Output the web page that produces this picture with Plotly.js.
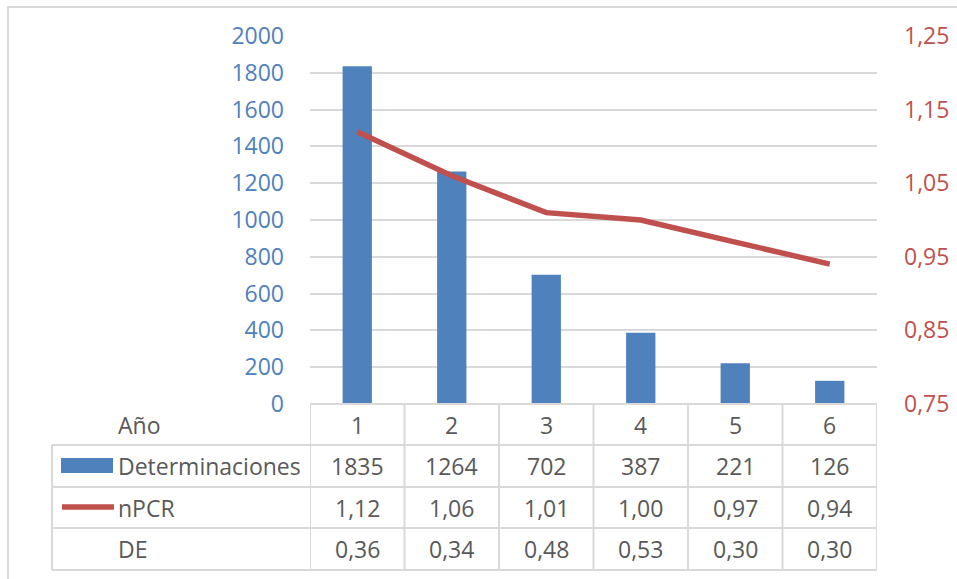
<!DOCTYPE html>
<html>
<head>
<meta charset="utf-8">
<script src="https://cdn.plot.ly/plotly-3.0.1.min.js"></script>
<style>html,body{margin:0;padding:0;background:#fff;}#chart{width:957px;height:579px;}</style>
</head>
<body>
<div id="chart"></div>
<script>
// ---- data ----
const years = [1, 2, 3, 4, 5, 6];
const determinaciones = [1835, 1264, 702, 387, 221, 126];
const npcr = [1.12, 1.06, 1.01, 1.00, 0.97, 0.94];
const de = [0.36, 0.34, 0.48, 0.53, 0.30, 0.30];
const rowLabels = ['Año', 'Determinaciones', 'nPCR', 'DE'];
const leftTicks = [0, 200, 400, 600, 800, 1000, 1200, 1400, 1600, 1800, 2000];
const rightTicks = [0.75, 0.85, 0.95, 1.05, 1.15, 1.25];

// ---- styling / geometry ----
const W = 957, H = 579;
const L = 310, R = 877, T = 36, B = 404;
const blue = '#4F81BD', red = '#C0504D', grey = '#595959', gridC = '#D9D9D9';
const FONT = 'Open Sans, Liberation Sans, sans-serif';
const FS = 23;
const px = x => (x - L) / (R - L);
const py = y => 1 - (y - T) / (B - T);
const comma = v => v.toFixed(2).replace('.', ',');

const rowTops = [404, 445, 487, 528, 570];
const tableLeft = 52;

const shapes = [];
const annotations = [];

// outer chart border (left & top visible)
shapes.push({type:'rect', xref:'paper', yref:'paper', x0:px(8), x1:px(960), y0:py(582), y1:py(7),
  line:{color:'#D9D9D9', width:2}, fillcolor:'rgba(0,0,0,0)', layer:'below'});

// table grid: vertical lines at category boundaries
for (let i = 0; i <= years.length; i++) {
  shapes.push({type:'line', xref:'x', yref:'paper', x0:0.5 + i, x1:0.5 + i,
    y0:py(rowTops[0]), y1:py(rowTops[4]), line:{color:gridC, width:2}});
}
// left column vertical (rows 2-4)
shapes.push({type:'line', xref:'paper', yref:'paper', x0:px(tableLeft), x1:px(tableLeft),
  y0:py(rowTops[1]), y1:py(rowTops[4]), line:{color:gridC, width:2}});
// horizontal lines
shapes.push({type:'line', xref:'x', yref:'paper', x0:0.5, x1:6.5, y0:py(rowTops[0]), y1:py(rowTops[0]), line:{color:gridC, width:2}});
for (let r = 1; r <= 4; r++) {
  shapes.push({type:'line', xref:'paper', yref:'paper', x0:px(tableLeft), x1:px(R),
    y0:py(rowTops[r]), y1:py(rowTops[r]), line:{color:gridC, width:2}});
}
// legend keys
shapes.push({type:'rect', xref:'paper', yref:'paper', x0:px(61), x1:px(113), y0:py(473), y1:py(458),
  fillcolor:blue, line:{width:0}});
shapes.push({type:'line', xref:'paper', yref:'paper', x0:px(62), x1:px(114), y0:py(507), y1:py(507),
  line:{color:red, width:5.5}});

// row labels
rowLabels.forEach((t, r) => {
  annotations.push({xref:'paper', yref:'paper', x:px(116), y:py((rowTops[r] + rowTops[r+1]) / 2),
    xanchor:'left', yanchor:'middle', text:t, showarrow:false, font:{family:FONT, size:FS, color:grey}});
});
// table values
const rows = [years.map(String), determinaciones.map(String), npcr.map(comma), de.map(comma)];
rows.forEach((vals, r) => {
  vals.forEach((v, i) => {
    annotations.push({xref:'x', yref:'paper', x:years[i], y:py((rowTops[r] + rowTops[r+1]) / 2),
      xanchor:'center', yanchor:'middle', text:v, showarrow:false, font:{family:FONT, size:FS, color:grey}});
  });
});

const traces = [
  {type:'bar', x:years, y:determinaciones, name:'Determinaciones', marker:{color:blue}, width:0.31,
   hoverinfo:'none'},
  {type:'scatter', mode:'lines', x:years, y:npcr, name:'nPCR', yaxis:'y2',
   line:{color:red, width:5.5}, hoverinfo:'none'}
];

const layout = {
  width:W, height:H,
  margin:{l:L, r:W - R, t:T, b:H - B, pad:0},
  paper_bgcolor:'#fff', plot_bgcolor:'rgba(0,0,0,0)',
  showlegend:false,
  separators:',.',
  font:{family:FONT},
  xaxis:{range:[0.5, 6.5], showticklabels:false, showgrid:false, zeroline:false, ticks:'', fixedrange:true},
  yaxis:{range:[0, 2000], tickvals:leftTicks, showgrid:true, gridcolor:gridC, gridwidth:2,
    zeroline:false, ticks:'', ticklabelstandoff:25, tickfont:{family:FONT, size:FS, color:blue}},
  yaxis2:{range:[0.75, 1.25], overlaying:'y', side:'right', tickvals:rightTicks, tickformat:'.2f',
    showgrid:false, zeroline:false, ticks:'', ticklabelstandoff:26, tickfont:{family:FONT, size:FS, color:red}},
  shapes:shapes,
  annotations:annotations
};

Plotly.newPlot('chart', traces, layout, {displayModeBar:false, staticPlot:true});
</script>
</body>
</html>
